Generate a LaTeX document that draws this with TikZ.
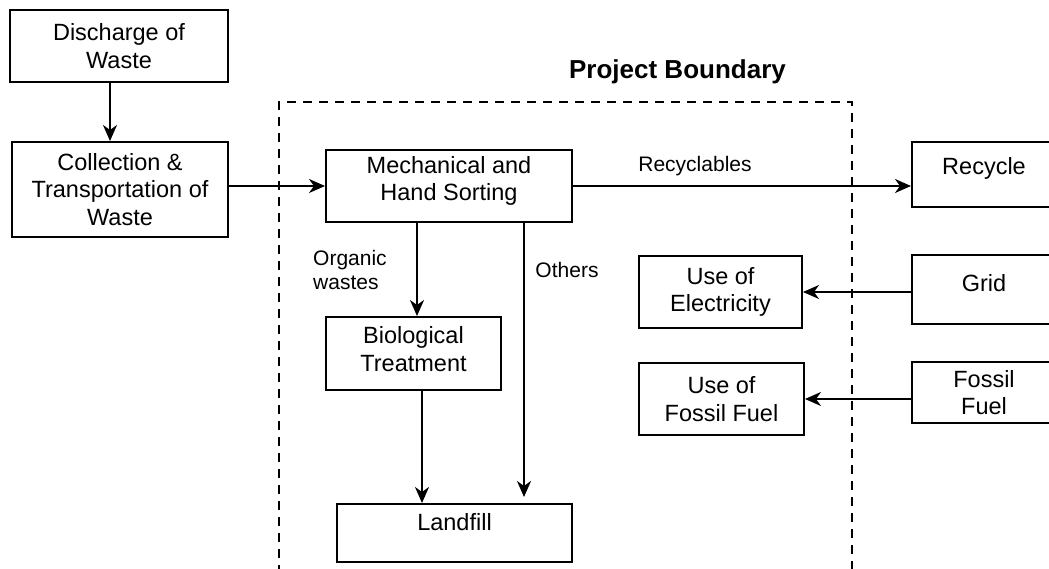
\documentclass[tikz,border=0pt]{standalone}
\usepackage{fontspec}
\setmainfont{Liberation Sans}
\usetikzlibrary{arrows.meta,calc}
\begin{document}
\begin{tikzpicture}[x=1pt,y=-1pt,
  box/.style={draw=black, line width=2pt, inner sep=0pt, align=center, font=\fontsize{23.5}{27.5}\selectfont},
  txt/.style={inner sep=0pt, align=center, font=\fontsize{23.5}{27.5}\selectfont},
  lbl/.style={inner sep=0pt, font=\fontsize{21}{24}\selectfont},
  arr/.style={line width=2pt, -{Stealth[length=16pt,width=14pt,inset=5pt]}},
  bound/.style={line width=2pt, dash pattern=on 9pt off 7pt}]
\clip (0,0) rectangle (1049,569);
\fill[white] (0,0) rectangle (1049,569);

% project boundary
\draw[bound] (279,590) -- (279,102) -- (852,102) -- (852,590);
\node[inner sep=0pt, font=\fontsize{26}{30}\selectfont\bfseries] (pb) at (677.5,72) {Project Boundary};

% boxes
\node[box, minimum width=218pt, minimum height=72pt] (dis) at (119,46) {Discharge of\\Waste};
\node[box, minimum width=216pt, minimum height=95pt] (col) at (120,189.5) {Collection \&\\Transportation of\\Waste};
\node[box, minimum width=246pt, minimum height=72pt] (mech) at (449,186) {};
\node[txt] (mecht) at (449,181) {Mechanical and\\Hand Sorting};
\node[box, minimum width=175pt, minimum height=73pt] (bio) at (413.5,353.5) {};
\node[txt] (biot) at (413.5,349) {Biological\\Treatment};
\node[box, minimum width=235pt, minimum height=58pt] (land) at (454.5,533) {};
\node[txt] (landt) at (454.5,522) {Landfill};
\node[box, minimum width=163pt, minimum height=72pt] (elec) at (720.5,292) {Use of\\Electricity};
\node[box, minimum width=165pt, minimum height=72pt] (useff) at (721.5,399) {Use of\\Fossil Fuel};
\node[box, minimum width=144pt, minimum height=65pt] (rec) at (984,174.5) {};
\node[txt] (rect) at (984,168) {Recycle};
\node[box, minimum width=144pt, minimum height=69pt] (grid) at (984,289.5) {};
\node[txt] (gridt) at (984,283) {Grid};
\node[box, minimum width=144pt, minimum height=61pt] (fos) at (984,392.5) {Fossil\\Fuel};

% connectors
\draw[arr] ([xshift=-9pt]dis.south) -- ([xshift=-10pt]col.north);
\draw[arr] (col.east |- mech.west) -- (mech.west);
\draw[arr] (mech.east) -- (mech.east -| rec.west);
\draw[arr] ([xshift=3.5pt]bio.north |- mech.south) -- ([xshift=3.5pt]bio.north);
\draw[arr] ([xshift=8.5pt]bio.south) -- ([xshift=8.5pt]bio.south |- land.north);
\draw[arr] ([xshift=69.5pt]land.north |- mech.south) -- ([xshift=69.5pt,yshift=6pt]land.north);
\draw[arr] (elec.east -| grid.west) -- (elec.east);
\draw[arr] (useff.east -| fos.west) -- (useff.east);

% labels
\node[lbl] (recl) at (695,166) {Recyclables};
\node[lbl, align=left, anchor=west] (orgl) at (313,270) {Organic\\wastes};
\node[lbl] (othl) at (567,270) {Others};
\end{tikzpicture}
\end{document}
